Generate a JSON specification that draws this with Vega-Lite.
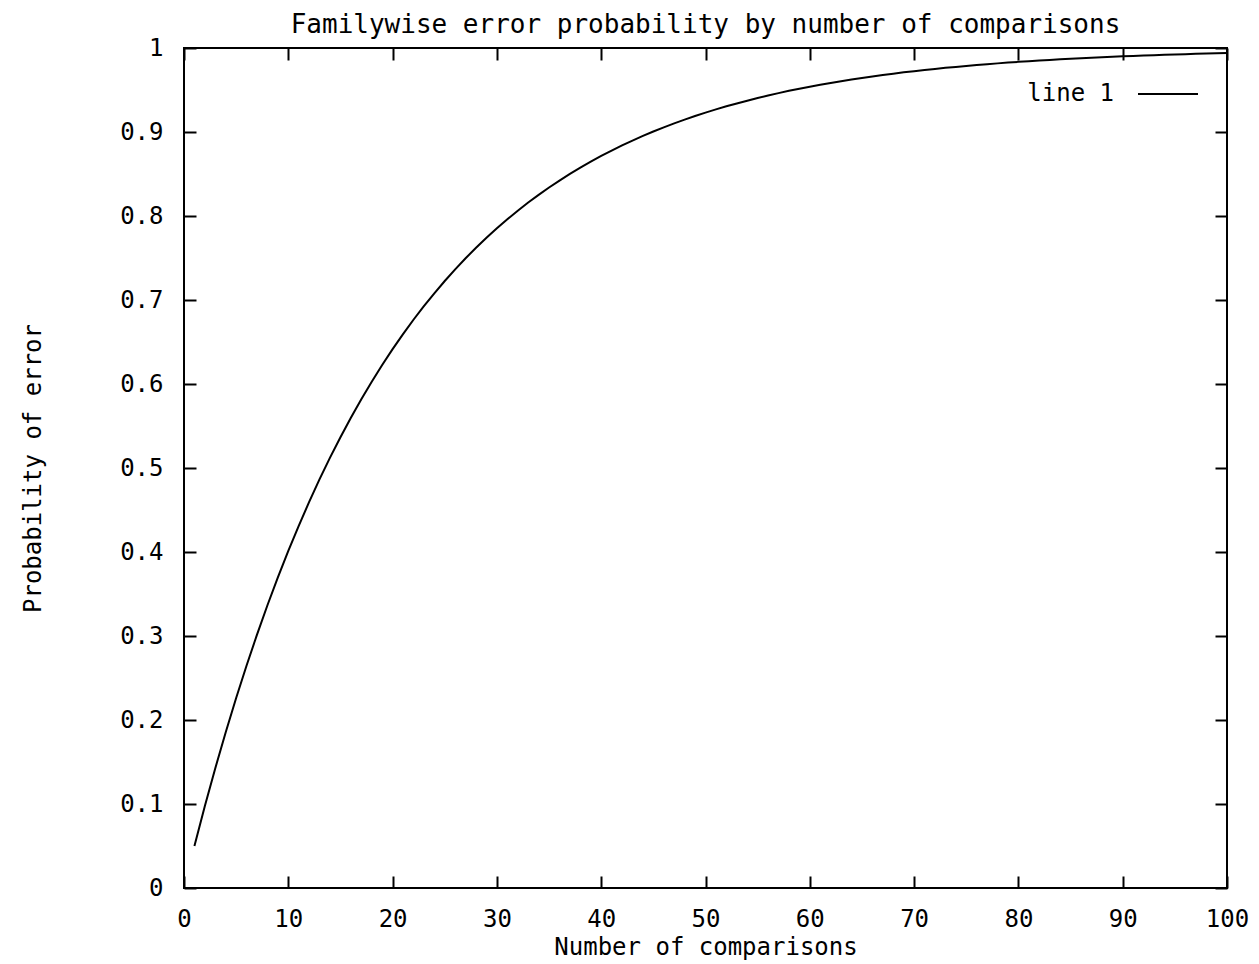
{
  "$schema": "https://vega.github.io/schema/vega-lite/v6.json",
  "width": 1043,
  "height": 840,
  "autosize": {"type": "none"},
  "padding": {"left": 184, "top": 48, "right": 32, "bottom": 76},
  "background": "white",
  "config": {
    "font": "DejaVu Sans Mono",
    "view": {"stroke": "black", "strokeWidth": 2},
    "axis": {"grid": false, "domain": false, "labelFont": "DejaVu Sans Mono", "labelFontSize": 24, "labelColor": "black", "titleFont": "DejaVu Sans Mono", "titleFontSize": 24, "titleFontWeight": "normal", "titleColor": "black", "tickColor": "black", "tickWidth": 2, "tickSize": -12}
  },
  "title": {"text": "Familywise error probability by number of comparisons", "font": "DejaVu Sans Mono", "fontSize": 26, "fontWeight": "normal", "color": "black", "offset": -2, "anchor": "middle"},
  "data": {"values": [
    {"n": 1, "p": 0.05}, {"n": 2, "p": 0.0975}, {"n": 3, "p": 0.1426}, {"n": 4, "p": 0.1855}, {"n": 5, "p": 0.2262},
    {"n": 6, "p": 0.2649}, {"n": 7, "p": 0.3017}, {"n": 8, "p": 0.3366}, {"n": 9, "p": 0.3698}, {"n": 10, "p": 0.4013},
    {"n": 11, "p": 0.4312}, {"n": 12, "p": 0.4596}, {"n": 13, "p": 0.4867}, {"n": 14, "p": 0.5123}, {"n": 15, "p": 0.5367},
    {"n": 16, "p": 0.5599}, {"n": 17, "p": 0.5819}, {"n": 18, "p": 0.6028}, {"n": 19, "p": 0.6226}, {"n": 20, "p": 0.6415},
    {"n": 21, "p": 0.6594}, {"n": 22, "p": 0.6765}, {"n": 23, "p": 0.6926}, {"n": 24, "p": 0.708}, {"n": 25, "p": 0.7226},
    {"n": 26, "p": 0.7365}, {"n": 27, "p": 0.7497}, {"n": 28, "p": 0.7622}, {"n": 29, "p": 0.7741}, {"n": 30, "p": 0.7854},
    {"n": 31, "p": 0.7961}, {"n": 32, "p": 0.8063}, {"n": 33, "p": 0.816}, {"n": 34, "p": 0.8252}, {"n": 35, "p": 0.8339},
    {"n": 36, "p": 0.8422}, {"n": 37, "p": 0.8501}, {"n": 38, "p": 0.8576}, {"n": 39, "p": 0.8647}, {"n": 40, "p": 0.8715},
    {"n": 41, "p": 0.8779}, {"n": 42, "p": 0.884}, {"n": 43, "p": 0.8898}, {"n": 44, "p": 0.8953}, {"n": 45, "p": 0.9006},
    {"n": 46, "p": 0.9055}, {"n": 47, "p": 0.9103}, {"n": 48, "p": 0.9147}, {"n": 49, "p": 0.919}, {"n": 50, "p": 0.9231},
    {"n": 51, "p": 0.9269}, {"n": 52, "p": 0.9306}, {"n": 53, "p": 0.934}, {"n": 54, "p": 0.9373}, {"n": 55, "p": 0.9405},
    {"n": 56, "p": 0.9434}, {"n": 57, "p": 0.9463}, {"n": 58, "p": 0.949}, {"n": 59, "p": 0.9515}, {"n": 60, "p": 0.9539},
    {"n": 61, "p": 0.9562}, {"n": 62, "p": 0.9584}, {"n": 63, "p": 0.9605}, {"n": 64, "p": 0.9625}, {"n": 65, "p": 0.9644},
    {"n": 66, "p": 0.9661}, {"n": 67, "p": 0.9678}, {"n": 68, "p": 0.9694}, {"n": 69, "p": 0.971}, {"n": 70, "p": 0.9724},
    {"n": 71, "p": 0.9738}, {"n": 72, "p": 0.9751}, {"n": 73, "p": 0.9764}, {"n": 74, "p": 0.9775}, {"n": 75, "p": 0.9787},
    {"n": 76, "p": 0.9797}, {"n": 77, "p": 0.9807}, {"n": 78, "p": 0.9817}, {"n": 79, "p": 0.9826}, {"n": 80, "p": 0.9835},
    {"n": 81, "p": 0.9843}, {"n": 82, "p": 0.9851}, {"n": 83, "p": 0.9858}, {"n": 84, "p": 0.9865}, {"n": 85, "p": 0.9872},
    {"n": 86, "p": 0.9879}, {"n": 87, "p": 0.9885}, {"n": 88, "p": 0.989}, {"n": 89, "p": 0.9896}, {"n": 90, "p": 0.9901},
    {"n": 91, "p": 0.9906}, {"n": 92, "p": 0.9911}, {"n": 93, "p": 0.9915}, {"n": 94, "p": 0.9919}, {"n": 95, "p": 0.9923},
    {"n": 96, "p": 0.9927}, {"n": 97, "p": 0.9931}, {"n": 98, "p": 0.9934}, {"n": 99, "p": 0.9938}, {"n": 100, "p": 0.9941}
  ]},
  "layer": [
    {
      "mark": {"type": "line", "strokeWidth": 2, "clip": true},
      "encoding": {
        "x": {"field": "n", "type": "quantitative", "scale": {"domain": [0, 100], "nice": false, "zero": false},
          "axis": {"orient": "bottom", "title": "Number of comparisons", "values": [0, 10, 20, 30, 40, 50, 60, 70, 80, 90, 100], "labelPadding": 31, "titlePadding": 4, "labelFlush": false}},
        "y": {"field": "p", "type": "quantitative", "scale": {"domain": [0, 1], "nice": false},
          "axis": {"orient": "left", "title": "Probability of error", "values": [0, 0.1, 0.2, 0.3, 0.4, 0.5, 0.6, 0.7, 0.8, 0.9, 1], "format": ".1~f", "labelPadding": 33, "titlePadding": 74, "labelFlush": false}},
        "color": {"datum": "line 1", "type": "nominal", "scale": {"range": ["black"]},
          "legend": {"title": null, "orient": "none", "legendX": 953, "legendY": 15, "symbolType": "stroke", "symbolSize": 3600, "symbolStrokeWidth": 2, "symbolStrokeColor": "black", "labelAlign": "right", "labelOffset": -85, "labelFont": "DejaVu Sans Mono", "labelFontSize": 24, "labelColor": "black", "padding": 0}}
      }
    },
    {
      "mark": {"type": "line", "strokeWidth": 2, "opacity": 0},
      "encoding": {
        "x": {"field": "n", "type": "quantitative", "scale": {"domain": [0, 100], "nice": false, "zero": false},
          "axis": {"orient": "top", "title": null, "labels": false, "values": [0, 10, 20, 30, 40, 50, 60, 70, 80, 90, 100]}},
        "y": {"field": "p", "type": "quantitative", "scale": {"domain": [0, 1], "nice": false},
          "axis": {"orient": "right", "title": null, "labels": false, "values": [0, 0.1, 0.2, 0.3, 0.4, 0.5, 0.6, 0.7, 0.8, 0.9, 1]}}
      }
    }
  ],
  "resolve": {"axis": {"x": "independent", "y": "independent"}}
}
